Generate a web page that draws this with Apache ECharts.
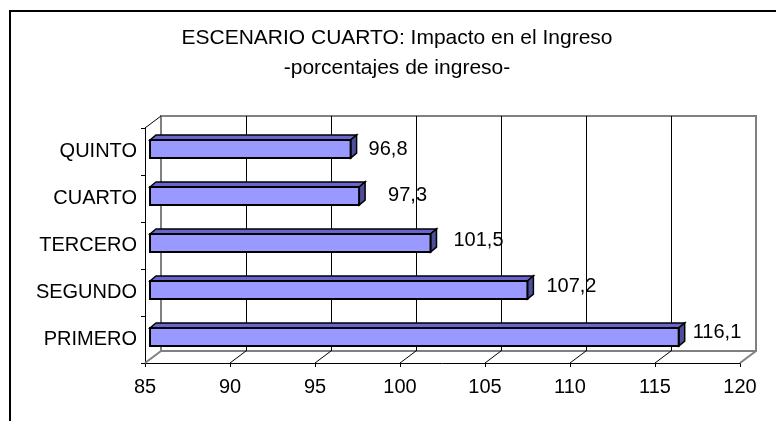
<!DOCTYPE html>
<html>
<head>
<meta charset="utf-8">
<script src="https://cdn.jsdelivr.net/npm/echarts@6/dist/echarts.min.js"></script>
<style>
  html, body { margin: 0; padding: 0; background: #fff; }
  #chart { width: 776px; height: 421px; }
</style>
</head>
<body>
<div id="chart"></div>
<script>
  // datos del gráfico
  var categorias = ['PRIMERO', 'SEGUNDO', 'TERCERO', 'CUARTO', 'QUINTO'];
  var valores = [116.1, 107.2, 101.5, 97.3, 96.8];
  var ticksX = [85, 90, 95, 100, 105, 110, 115, 120];

  var fuente = '"Liberation Sans", Arial, sans-serif';
  // profundidad del efecto 3D (pared del fondo)
  var prof = [16, -12];
  // ajuste fino de las etiquetas (orden de categorias)
  var etqDx = [8, 13, 17, 23, 12];
  var etqDy = [-7, -6.5, -5, -3, -2];

  var myChart = echarts.init(document.getElementById('chart'));

  function renderBarra(params, api) {
    var idx = api.value(1);
    var ini = api.coord([85, idx]);
    var fin = api.coord([api.value(0), idx]);
    var banda = api.size([0, 1])[1];
    var h = banda * 0.385;
    var ox = 5, oy = -2.5, dx = 6, dy = -5;
    var x0 = ini[0] + ox, x1 = fin[0] + ox;
    var yT = fin[1] + oy - h / 2, yB = fin[1] + oy + h / 2;
    var texto = api.value(0).toFixed(1).replace('.', ',');
    return {
      type: 'group',
      children: [
        {
          type: 'polygon',
          shape: { points: [[x0, yT], [x1, yT], [x1 + dx, yT + dy], [x0 + dx, yT + dy]] },
          style: { fill: '#6666CC', stroke: '#000', lineWidth: 1.5 }
        },
        {
          type: 'polygon',
          shape: { points: [[x1, yT], [x1 + dx, yT + dy], [x1 + dx, yB + dy], [x1, yB]] },
          style: { fill: '#4D4D99', stroke: '#000', lineWidth: 1.5 }
        },
        {
          type: 'rect',
          shape: { x: x0, y: yT, width: x1 - x0, height: yB - yT },
          style: { fill: '#9999FF', stroke: '#000', lineWidth: 2 }
        },
        {
          type: 'text',
          x: x1 + dx + etqDx[idx],
          y: fin[1] + etqDy[idx],
          style: { text: texto, font: '20px ' + fuente, fill: '#000', align: 'left', verticalAlign: 'middle' }
        }
      ]
    };
  }

  function renderPiso(params, api) {
    var v = api.value(0);
    var cs = params.coordSys;
    var x = api.coord([v, 0])[0];
    var yb = cs.y + cs.height;
    var borde = (v === ticksX[0] || v === ticksX[ticksX.length - 1]);
    var hijos = [{
      type: 'line',
      shape: { x1: x, y1: yb, x2: x + prof[0], y2: yb + prof[1] },
      style: { stroke: borde ? '#808080' : '#000', lineWidth: borde ? 2 : 1 }
    }];
    if (v === ticksX[0]) {
      hijos.push({
        type: 'line',
        shape: { x1: x, y1: cs.y, x2: x + prof[0], y2: cs.y + prof[1] },
        style: { stroke: '#000', lineWidth: 1 }
      });
    }
    return { type: 'group', children: hijos };
  }

  var frente = { left: 145, top: 128, width: 595, height: 235 };

  var option = {
    animation: false,
    backgroundColor: '#fff',
    title: {
      text: 'ESCENARIO CUARTO: Impacto en el Ingreso\n-porcentajes de ingreso-',
      left: 392,
      top: 18,
      textAlign: 'center',
      textStyle: { fontFamily: fuente, fontSize: 21, fontWeight: 'normal', color: '#000', lineHeight: 30 }
    },
    graphic: [{
      type: 'rect',
      shape: { x: 10, y: 11, width: 800, height: 450 },
      style: { fill: 'none', stroke: '#000', lineWidth: 2 },
      silent: true
    }],
    grid: [
      { left: frente.left, top: frente.top, width: frente.width, height: frente.height },
      {
        left: frente.left + prof[0], top: frente.top + prof[1], width: frente.width, height: frente.height,
        show: true, backgroundColor: '#fff', borderColor: '#808080', borderWidth: 2
      }
    ],
    xAxis: [
      {
        gridIndex: 0, type: 'value', min: 85, max: 120, interval: 5,
        axisLine: { show: true, lineStyle: { color: '#000', width: 1 } },
        axisTick: { show: true, length: 4, lineStyle: { color: '#000' } },
        axisLabel: { fontFamily: fuente, fontSize: 20, color: '#000', margin: 14 },
        splitLine: { show: false }
      },
      {
        gridIndex: 1, type: 'value', min: 85, max: 120, interval: 5,
        axisLine: { show: false }, axisTick: { show: false }, axisLabel: { show: false },
        splitLine: { show: true, showMinLine: false, showMaxLine: false, lineStyle: { color: '#000', width: 1 } }
      }
    ],
    yAxis: [
      {
        gridIndex: 0, type: 'category', data: categorias,
        axisLine: { show: true, lineStyle: { color: '#000', width: 1 } },
        axisTick: { show: true, length: 4, lineStyle: { color: '#000' } },
        axisLabel: { fontFamily: fuente, fontSize: 20, color: '#000', margin: 8 }
      },
      {
        gridIndex: 1, type: 'category', data: categorias, show: false
      }
    ],
    series: [
      {
        type: 'custom',
        xAxisIndex: 0, yAxisIndex: 0,
        renderItem: renderPiso,
        data: ticksX.map(function (v) { return [v, 0]; }),
        z: 3, silent: true
      },
      {
        type: 'custom',
        xAxisIndex: 0, yAxisIndex: 0,
        renderItem: renderBarra,
        encode: { x: 0, y: 1 },
        data: valores.map(function (v, i) { return [v, i]; }),
        z: 4
      }
    ]
  };

  myChart.setOption(option);
</script>
</body>
</html>
